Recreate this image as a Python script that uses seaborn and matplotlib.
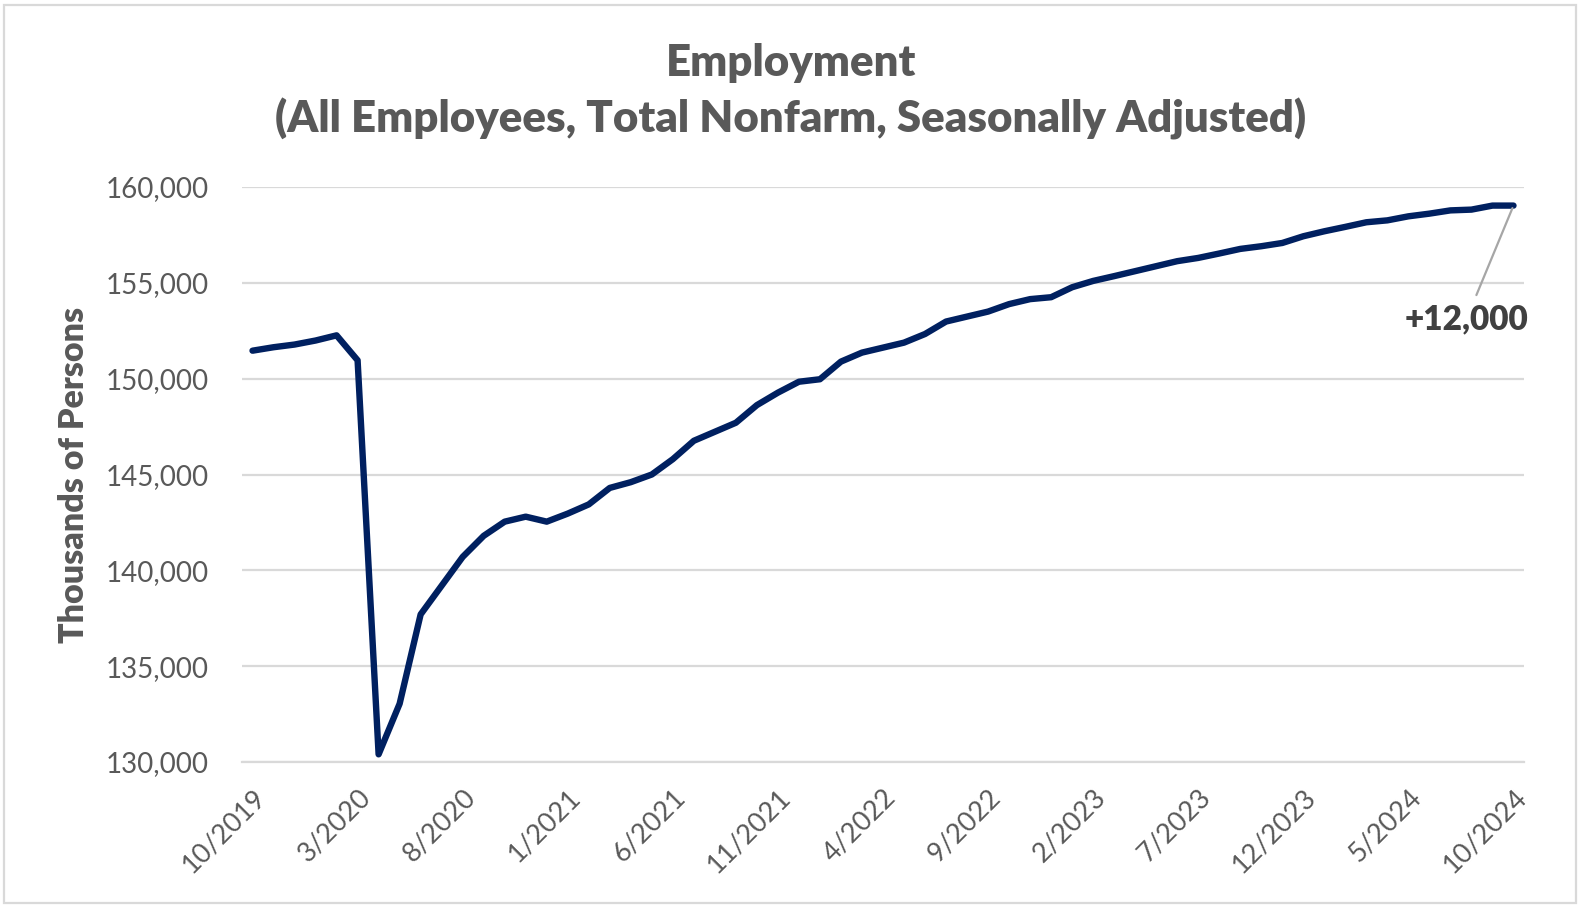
import matplotlib
matplotlib.use("Agg")
import matplotlib.pyplot as plt
import seaborn as sns
import pandas as pd
import numpy as np
from matplotlib.ticker import FuncFormatter
from matplotlib.patches import Rectangle

# ---- data (thousands of persons, monthly 10/2019 .. 10/2024) ----
months = pd.date_range("2019-10-01", "2024-10-01", freq="MS")
employment = [
    151460, 151640, 151780,
    151990, 152260, 150960, 130400, 133040, 137700, 139200, 140700, 141800, 142540, 142800, 142540,
    142960, 143440, 144300, 144600, 145000, 145800, 146760, 147230, 147700, 148620, 149270, 149840,
    149970, 150890, 151360, 151620, 151880, 152330, 152980, 153240, 153500, 153890, 154150, 154250,
    154770, 155100, 155350, 155610, 155870, 156130, 156300, 156530, 156770, 156910, 157080, 157430,
    157690, 157920, 158160, 158260, 158470, 158610, 158780, 158820, 159030, 159030,
]
tick_labels = ["10/2019", "3/2020", "8/2020", "1/2021", "6/2021", "11/2021", "4/2022",
               "9/2022", "2/2023", "7/2023", "12/2023", "5/2024", "10/2024"]
y_ticks = [130000, 135000, 140000, 145000, 150000, 155000, 160000]
title_lines = ["Employment", "(All Employees, Total Nonfarm, Seasonally Adjusted)"]
y_label = "Thousands of Persons"
annotation_text = "+12,000"

df = pd.DataFrame({
    "pos": np.arange(len(months)),
    "label": [f"{d.month}/{d.year}" for d in months],
    "employment": employment,
})

sns.set_theme(style="white")
plt.rcParams["font.family"] = ["Lato", "DejaVu Sans"]

TEXT = "#595959"
GRID = "#d9d9d9"
NAVY = "#002060"

fig = plt.figure(figsize=(15.82, 9.10), dpi=100)
ax = fig.add_axes([242 / 1582, 1 - 762 / 910, (1524 - 242) / 1582, (762 - 187) / 910])

sns.lineplot(data=df, x="pos", y="employment", ax=ax, color=NAVY, linewidth=4.6,
             solid_capstyle="round", solid_joinstyle="round")

ax.set_xlim(-0.5, len(months) - 0.5)
ax.set_ylim(y_ticks[0], y_ticks[-1])
ax.set_yticks(y_ticks)
ax.yaxis.set_major_formatter(FuncFormatter(lambda v, p: f"{int(v):,}"))
ax.grid(axis="y", color=GRID, linewidth=1.6)
ax.set_axisbelow(True)

label_pos = [df.index[df["label"] == t][0] for t in tick_labels]
ax.set_xticks(label_pos)
ax.set_xticklabels(tick_labels, rotation=45, ha="right", rotation_mode="anchor")
ax.set_xticks([p - 0.5 for p in label_pos], minor=True)
ax.tick_params(axis="x", which="major", length=0, pad=16, labelsize=19.5, labelcolor=TEXT)
ax.tick_params(axis="x", which="minor", length=8, width=1.6, color=GRID, direction="out")
ax.tick_params(axis="y", length=0, pad=24, labelsize=20, labelcolor=TEXT)

for s in ["top", "right", "left"]:
    ax.spines[s].set_visible(False)
ax.spines["bottom"].set_color(GRID)
ax.spines["bottom"].set_linewidth(1.6)

ax.set_xlabel("")
ax.set_ylabel(y_label, fontsize=24.5, fontweight="heavy", color=TEXT, labelpad=11)

fig.text(0.5, 1 - 63 / 910, title_lines[0], ha="center", va="center",
         fontsize=31.5, fontweight="heavy", color=TEXT)
fig.text(0.5, 1 - 119 / 910, title_lines[1], ha="center", va="center",
         fontsize=31.5, fontweight="heavy", color=TEXT)

last = df.iloc[-1]
ax.annotate(annotation_text, xy=(last["pos"], last["employment"]),
            xytext=(-34, -82), textcoords="offset points", ha="center", va="center",
            fontsize=24, fontweight="heavy", color="#404040",
            arrowprops=dict(arrowstyle="-", color="#a6a6a6", linewidth=1.6,
                            shrinkA=4, shrinkB=2))

fig.patches.append(Rectangle((4 / 1582, 1 - 903 / 910), (1576 - 4) / 1582, (903 - 5) / 910,
                             transform=fig.transFigure, fill=False,
                             edgecolor=GRID, linewidth=1.6))

fig.savefig("out.png", dpi=100, facecolor="white")
